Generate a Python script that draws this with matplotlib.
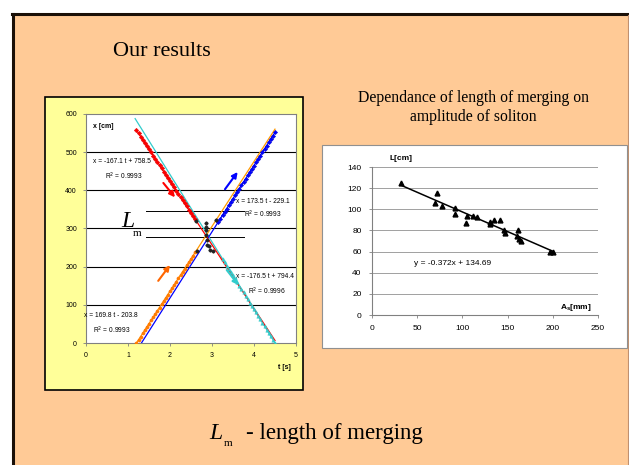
import matplotlib
matplotlib.use("Agg")
import matplotlib.pyplot as plt
from matplotlib.patches import Rectangle
from matplotlib.lines import Line2D
import numpy as np

# ---------------- data: left chart (position x [cm] vs time t [s]) ----------------
red_t = [1.20, 1.25, 1.30, 1.35, 1.40, 1.45, 1.50, 1.55, 1.60, 1.65, 1.70, 1.75, 1.80, 1.85, 1.90,
         1.95, 2.00, 2.05, 2.10, 2.15, 2.20, 2.25, 2.30, 2.35, 2.40, 2.45, 2.50, 2.55, 2.60]
red_x = [558, 550, 541, 533, 525, 516, 508, 500, 491, 483, 474, 466, 458, 449, 441,
         433, 424, 416, 408, 399, 391, 383, 374, 366, 358, 349, 341, 332, 324]

cyan_t = [3.25, 3.30, 3.35, 3.40, 3.45, 3.50, 3.55, 3.60, 3.65, 3.70, 3.75, 3.80, 3.85, 3.90,
          3.95, 4.00, 4.05, 4.10, 4.15, 4.20, 4.25, 4.30, 4.35, 4.40, 4.45, 4.50]
cyan_x = [221, 212, 203, 194, 185, 177, 168, 159, 150, 141, 133, 124, 115, 106,
          97, 88, 80, 71, 62, 53, 44, 35, 27, 18, 9, 0]

orange_t = [1.20, 1.25, 1.30, 1.35, 1.40, 1.45, 1.50, 1.55, 1.60, 1.65, 1.70, 1.75, 1.80, 1.85, 1.90,
            1.95, 2.00, 2.05, 2.10, 2.15, 2.20, 2.25, 2.30, 2.35, 2.40, 2.45, 2.50, 2.55, 2.60]
orange_x = [0, 8, 17, 25, 34, 42, 51, 59, 68, 76, 85, 93, 102, 110, 119,
            127, 136, 144, 153, 161, 170, 178, 187, 195, 204, 212, 221, 229, 238]

blue_t = [3.15, 3.20, 3.25, 3.30, 3.35, 3.40, 3.45, 3.50, 3.55, 3.60, 3.65, 3.70, 3.75, 3.80,
          3.85, 3.90, 3.95, 4.00, 4.05, 4.10, 4.15, 4.20, 4.25, 4.30, 4.35, 4.40, 4.45, 4.50]
blue_x = [317, 326, 335, 344, 352, 361, 370, 378, 387, 396, 404, 413, 422, 430,
          439, 448, 456, 465, 474, 482, 491, 500, 508, 517, 526, 534, 543, 552]

black_t = [2.63, 2.65, 2.85, 2.85, 2.86, 2.86, 2.87, 2.87, 2.92, 2.96, 3.03, 3.10]
black_x = [320, 240, 314, 305, 297, 284, 271, 258, 253, 244, 240, 322]

# linear fits (slope, intercept, t_start, t_end)
fit_red = (-167.1, 758.5, 1.20, 4.50)
fit_cyan = (-176.5, 794.4, 1.17, 4.50)
fit_orange = (169.8, -203.8, 1.20, 4.50)
fit_blue = (173.5, -229.1, 1.32, 4.50)

eq_red = "x = -167.1 t + 758.5"
eq_blue = "x = 173.5 t - 229.1"
eq_cyan = "x = -176.5 t + 794.4"
eq_orange = "x = 169.8 t - 203.8"
r2_red, r2_blue, r2_cyan, r2_orange = "0.9993", "0.9993", "0.9996", "0.9993"

left_xticks = [0, 1, 2, 3, 4, 5]
left_yticks = [0, 100, 200, 300, 400, 500, 600]

# ---------------- data: right chart (merging length vs amplitude) ----------------
As = [32, 70, 72, 77, 92, 92, 104, 105, 112, 116, 130, 131, 135, 142, 146, 147, 160, 161, 163, 165, 197, 200]
Lm = [125, 106, 115, 103, 101, 96, 87, 94, 94, 93, 86, 88, 90, 90, 80, 78, 75, 80, 72, 70, 60, 60]
trend_slope, trend_icpt = -0.372, 134.69
right_xticks = [0, 50, 100, 150, 200, 250]
right_yticks = [0, 20, 40, 60, 80, 100, 120, 140]

# ---------------- figure ----------------
W, H = 629, 465
fig = plt.figure(figsize=(W / 100, H / 100), dpi=100)
fig.patch.set_facecolor("white")

def frect(x0, y0, x1, y1):
    return [x0 / W, 1 - y1 / H, (x1 - x0) / W, (y1 - y0) / H]

def fx(x):
    return x / W

def fy(y):
    return 1 - y / H

ORANGE_BG = "#FFCA96"
serif = ["Liberation Serif", "DejaVu Serif"]
sans = ["Liberation Sans", "DejaVu Sans"]

# slide background
fig.add_artist(Rectangle((fx(13), 0), fx(628) - fx(13), fy(15), transform=fig.transFigure,
                         facecolor=ORANGE_BG, edgecolor="none", zorder=-5))
fig.add_artist(Line2D([fx(13), fx(13)], [0, fy(14)], transform=fig.transFigure, color="#1a1008", lw=2.2, zorder=-4))
fig.add_artist(Line2D([fx(12), fx(628)], [fy(14.5), fy(14.5)], transform=fig.transFigure, color="#1a1008", lw=2.2, zorder=-4))
fig.add_artist(Line2D([fx(628), fx(628)], [0, fy(15)], transform=fig.transFigure, color="#C09070", lw=0.8, zorder=-4))

fig.text(fx(113), fy(51), "Our results", family=serif, fontsize=16, ha="left", va="center")
fig.text(fx(473), fy(98), "Dependance of length of merging on", family=serif, fontsize=11.3, ha="center", va="center")
fig.text(fx(473), fy(117), "amplitude of soliton", family=serif, fontsize=11.3, ha="center", va="center")

# bottom label
fig.text(fx(209), fy(439), "L", family=serif, style="italic", fontsize=17, ha="left", va="baseline")
fig.text(fx(224), fy(446), "m", family=serif, fontsize=8, ha="left", va="baseline")
fig.text(fx(246), fy(439), "- length of merging", family=serif, fontsize=16.5, ha="left", va="baseline")

# panels
fig.add_artist(Rectangle((fx(45), fy(390)), fx(303) - fx(45), fy(97) - fy(390), transform=fig.transFigure,
                         facecolor="#FFFF99", edgecolor="black", lw=1.2, zorder=-3))
fig.add_artist(Rectangle((fx(322), fy(348)), fx(627) - fx(322), fy(145) - fy(348), transform=fig.transFigure,
                         facecolor="white", edgecolor="#909090", lw=0.8, zorder=-3))

# ---------------- left chart ----------------
ax = fig.add_axes(frect(86, 114, 296, 343))
ax.set_facecolor("white")
ax.set_xlim(0, 5)
ax.set_ylim(0, 600)
for yv in left_yticks[1:-1]:
    ax.axhline(yv, color="black", lw=0.8, zorder=1)
for s in ax.spines.values():
    s.set_color("#808080")
    s.set_linewidth(0.8)
ax.set_xticks(left_xticks)
ax.set_yticks(left_yticks)
ax.tick_params(labelsize=5, length=2.5, width=0.6, color="#808080", pad=4)
for lab in ax.get_xticklabels() + ax.get_yticklabels():
    lab.set_family(sans)

def fitline(f, color):
    k, b, t0, t1 = f
    tt = np.array([t0, t1])
    ax.plot(tt, k * tt + b, color=color, lw=0.9, zorder=3)

ax.plot(red_t, red_x, ls="none", marker="D", ms=2.3, color="#FF0000", mec="#DD0000", mew=0.3, zorder=4)
ax.plot(orange_t, orange_x, ls="none", marker="o", ms=2.3, color="#FF8000", mec="#FF6600", mew=0.3, zorder=4)
ax.plot(blue_t, blue_x, ls="none", marker="D", ms=2.2, color="#0000FF", mec="#0000CC", mew=0.3, zorder=4)
ax.plot(cyan_t, cyan_x, ls="none", marker="^", ms=2.5, color="#33CCCC", mec="#33CCCC", mew=0.3, zorder=4)
ax.plot(black_t, black_x, ls="none", marker="D", ms=1.6, color="#222222", zorder=5)

fitline(fit_cyan, "#33CCCC")
fitline(fit_orange, "#FF9900")
fitline(fit_blue, "#0000FF")
fitline(fit_red, "#FF0000")

# arrows showing direction of motion
def arrow(t0, x0, t1, x1, color):
    ax.annotate("", xy=(t1, x1), xytext=(t0, x0),
                arrowprops=dict(arrowstyle="-|>", color=color, lw=1.5, mutation_scale=8), zorder=6)

arrow(1.80, 425, 2.16, 376, "#FF0000")
arrow(3.27, 397, 3.65, 454, "#0000FF")
arrow(1.68, 157, 2.04, 210, "#FF6600")
arrow(3.31, 197, 3.67, 146, "#33CCCC")

# merging length markers
ax.plot([1.43, 3.76], [345, 345], color="black", lw=0.7, zorder=2)
ax.plot([1.44, 3.76], [277, 277], color="black", lw=0.7, zorder=2)
ax.text(0.83, 305, "L", family=serif, style="italic", fontsize=17, ha="left", va="baseline")
ax.text(1.12, 280, "m", family=serif, fontsize=8, ha="left", va="baseline")

eqfs = 4.8
ax.text(0.17, 476, eq_red, fontsize=eqfs, family=sans, va="center")
ax.text(0.45, 437, "R$^2$ = " + r2_red, fontsize=eqfs, family=sans, va="center")
ax.text(3.56, 371, eq_blue, fontsize=eqfs, family=sans, va="center")
ax.text(3.77, 336, "R$^2$ = " + r2_blue, fontsize=eqfs, family=sans, va="center")
ax.text(3.58, 175, eq_cyan, fontsize=eqfs, family=sans, va="center")
ax.text(3.86, 135, "R$^2$ = " + r2_cyan, fontsize=eqfs, family=sans, va="center")
ax.text(-0.04, 72, eq_orange, fontsize=eqfs, family=sans, va="center")
ax.text(0.17, 33, "R$^2$ = " + r2_orange, fontsize=eqfs, family=sans, va="center")

ax.text(0.17, 566, "x [cm]", fontsize=5, family=sans, weight="bold", va="center")
ax.text(4.56, -65, "t [s]", fontsize=5, family=sans, weight="bold", va="center", clip_on=False)

# ---------------- right chart ----------------
ax2 = fig.add_axes(frect(372, 167, 598, 315))
ax2.set_facecolor("white")
ax2.set_xlim(0, 250)
ax2.set_ylim(0, 140)
ax2.set_xticks(right_xticks)
ax2.set_yticks(right_yticks)
for yv in right_yticks[1:]:
    ax2.axhline(yv, color="#A0A0A0", lw=0.7, zorder=1)
ax2.spines["top"].set_visible(False)
ax2.spines["right"].set_visible(False)
for s in ("left", "bottom"):
    ax2.spines[s].set_color("#808080")
    ax2.spines[s].set_linewidth(0.8)
ax2.tick_params(labelsize=6, length=2.5, width=0.6, color="#808080", pad=5)
for lab in ax2.get_xticklabels() + ax2.get_yticklabels():
    lab.set_family(sans)

ax2.plot(As, Lm, ls="none", marker="^", ms=3.5, color="black", zorder=4)
xt = np.array([min(As), max(As)])
ax2.plot(xt, trend_slope * xt + trend_icpt, color="black", lw=1.1, zorder=3)
ax2.text(47, 49, "y = -0.372x + 134.69", fontsize=6, family=sans, va="center")
ax2.text(19, 148, "L[cm]", fontsize=6, family=sans, weight="bold", va="center", clip_on=False)
ax2.text(208, 7, "A$_\\mathregular{s}$[mm]", fontsize=6, family=sans, weight="bold", va="center")

fig.savefig("out.png", dpi=100, facecolor=fig.get_facecolor())
